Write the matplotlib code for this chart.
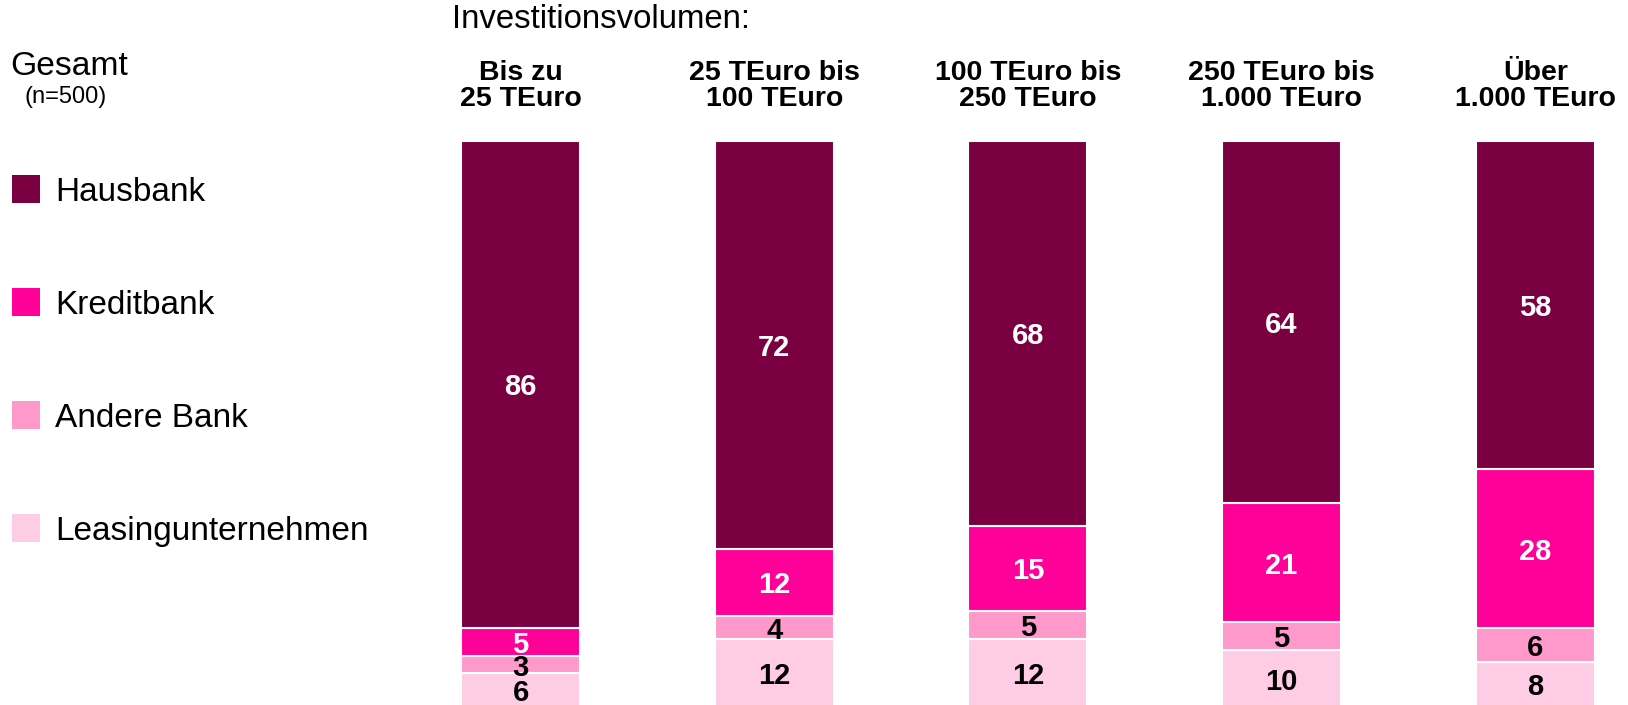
import numpy as np
import matplotlib.pyplot as plt
from matplotlib.patches import Rectangle

plt.rcParams['font.family'] = ['Liberation Sans', 'DejaVu Sans']

# Daten
kategorien = ['Bis zu\n25 TEuro', '25 TEuro bis\n100 TEuro', '100 TEuro bis\n250 TEuro',
              '250 TEuro bis\n1.000 TEuro', 'Über\n1.000 TEuro']
serien = ['Hausbank', 'Kreditbank', 'Andere Bank', 'Leasingunternehmen']
hausbank = [86, 72, 68, 64, 58]
kreditbank = [5, 12, 15, 21, 28]
andere_bank = [3, 4, 5, 5, 6]
leasing = [6, 12, 12, 10, 8]
farben = ['#7B0041', '#FF0099', '#FF99CC', '#FFCCE5']
textfarben = ['white', 'white', 'black', 'black']

W, H = 1628, 705
fig = plt.figure(figsize=(W / 100, H / 100), dpi=100)

def px(x, y):
    # Pixel (von oben links) -> Figurkoordinaten
    return x / W, 1 - y / H

# Achse für die Balken
schritt = 253.7
links, rechts = 440, 1620
mitte0 = 520.5
ax = fig.add_axes([links / W, -2 / H, (rechts - links) / W, 566 / H])
ax.set_xlim((links - mitte0) / schritt, (rechts - mitte0) / schritt)
ax.set_ylim(0, 100)

x = np.arange(len(kategorien))
breite = 119 / schritt
# von unten nach oben gestapelt
stapel = [leasing, andere_bank, kreditbank, hausbank]
stapel_farben = farben[::-1]
stapel_text = textfarben[::-1]
unten = np.zeros(len(x))
for werte, farbe, tf in zip(stapel, stapel_farben, stapel_text):
    werte = np.array(werte, dtype=float)
    ax.bar(x, werte, breite, bottom=unten, color=farbe, edgecolor='white', linewidth=1.5)
    for xi, b, v in zip(x, unten, werte):
        ax.text(xi, b + v / 2, f'{int(v)}', ha='center', va='center_baseline',
                color=tf, fontsize=21, fontweight='bold')
    unten += werte

ax.xaxis.tick_top()
ax.set_xticks(x)
ax.set_xticklabels(kategorien, fontsize=20.5, fontweight='bold', linespacing=1.0)
ax.tick_params(axis='x', length=0, pad=21)
ax.set_yticks([])
for s in ax.spines.values():
    s.set_visible(False)

# Texte oben
fig.text(*px(452, 28), 'Investitionsvolumen:', fontsize=23.7, va='baseline', ha='left')
fig.text(*px(10, 75), 'Gesamt', fontsize=24.2, va='baseline', ha='left')
fig.text(*px(25, 103), '(n=500)', fontsize=17, va='baseline', ha='left')

# Legende
for i, (name, farbe) in enumerate(zip(serien, farben)):
    yc = 189 + 113 * i
    x0, y0 = px(12, yc + 14)
    fig.add_artist(Rectangle((x0, y0), 28 / W, 28 / H, transform=fig.transFigure,
                             facecolor=farbe, edgecolor='none'))
    fig.text(*px(55, yc), name, fontsize=24, va='center_baseline', ha='left')

fig.savefig('out.png', dpi=100)
